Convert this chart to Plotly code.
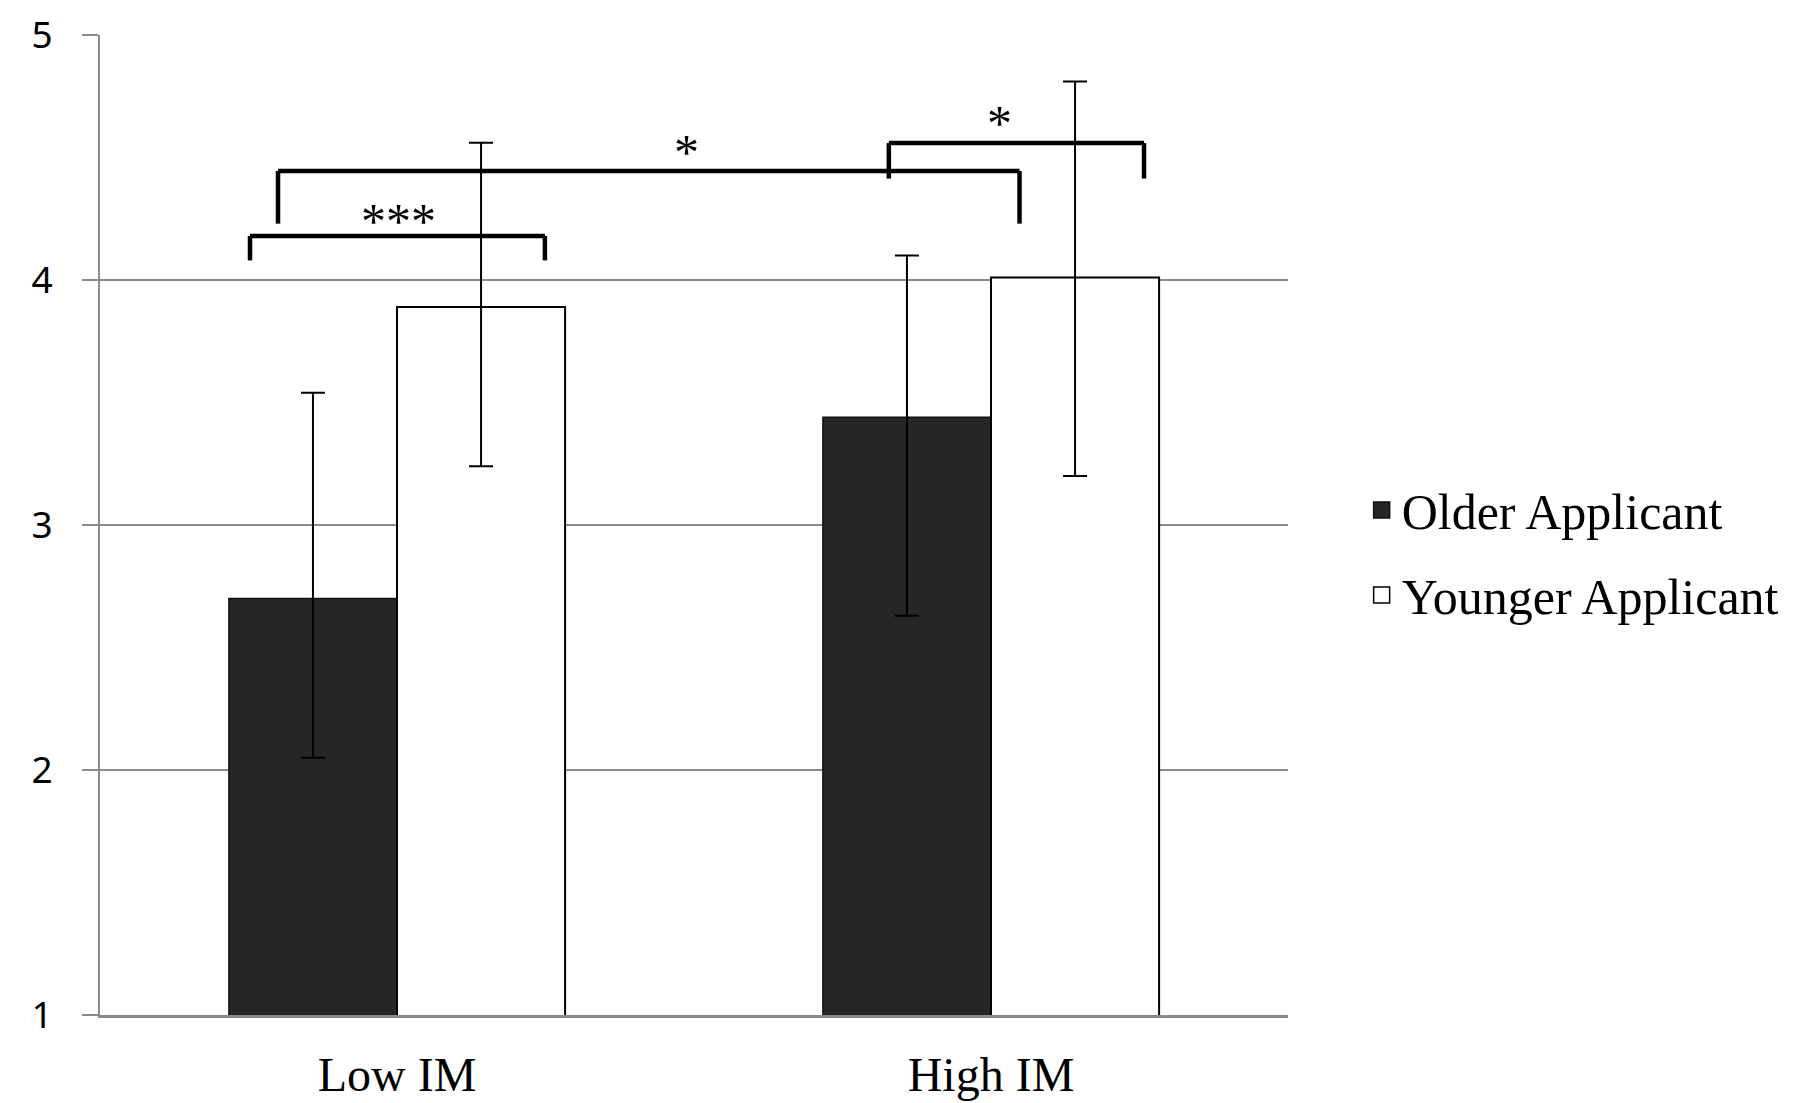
import plotly.graph_objects as go

categories = ["Low IM", "High IM"]
series_names = ["Older Applicant", "Younger Applicant"]
older = [2.70, 3.44]
younger = [3.89, 4.01]
older_err_plus = [0.84, 0.66]
older_err_minus = [0.65, 0.81]
younger_err_plus = [0.67, 0.80]
younger_err_minus = [0.65, 0.81]
y_ticks = [1, 2, 3, 4, 5]

# significance brackets: (x_left, x_right, y_bar, y_leg_left, y_leg_right, label, label_x, label_y)
brackets = [
    (-0.2475, 0.249, 4.18, 4.08, 4.08, "***", 0.003, 4.24),
    (-0.2003, 1.048, 4.445, 4.23, 4.23, "*", 0.487, 4.522),
    (0.828, 1.2576, 4.559, 4.414, 4.414, "*", 1.015, 4.64),
]

GRID = "#8a8a8a"
OLDER_FILL = "#262626"

fig = go.Figure()
fig.add_trace(go.Bar(
    x=categories, y=older, name=series_names[0], showlegend=False,
    marker=dict(color=OLDER_FILL, line=dict(color="#111111", width=1.5)),
    error_y=dict(type="data", symmetric=False, array=older_err_plus,
                 arrayminus=older_err_minus, color="black", thickness=2, width=12),
))
fig.add_trace(go.Bar(
    x=categories, y=younger, name=series_names[1], showlegend=False,
    marker=dict(color="white", line=dict(color="black", width=2)),
    error_y=dict(type="data", symmetric=False, array=younger_err_plus,
                 arrayminus=younger_err_minus, color="black", thickness=2, width=12),
))
# legend keys (larger square swatches, as in the reference)
fig.add_trace(go.Scatter(
    x=[None], y=[None], mode="markers", name=series_names[0], legendgroup="a",
    marker=dict(symbol="square", size=16, color=OLDER_FILL, line=dict(color="#111111", width=1.5)),
))
fig.add_trace(go.Scatter(
    x=[None], y=[None], mode="markers", name=series_names[1], legendgroup="b",
    marker=dict(symbol="square", size=16, color="white", line=dict(color="black", width=1.5)),
))

for xl, xr, yb, yl, yr, lab, lx, ly in brackets:
    for x0, y0, x1, y1 in [(xl, yb, xr, yb), (xl, yl, xl, yb), (xr, yr, xr, yb)]:
        fig.add_shape(type="line", xref="x", yref="y", x0=x0, y0=y0, x1=x1, y1=y1,
                      line=dict(color="black", width=4.5), layer="above")
    fig.add_annotation(x=lx, y=ly, xref="x", yref="y", text=lab, showarrow=False,
                       font=dict(family="Liberation Serif", size=50, color="black"),
                       yanchor="middle")

fig.update_layout(
    width=1792, height=1095,
    margin=dict(l=92, r=512, t=27, b=88, autoexpand=False),
    paper_bgcolor="white", plot_bgcolor="white",
    barmode="group", bargap=0.434, bargroupgap=0,
    showlegend=True,
    legend=dict(
        x=1.062, y=0.472, xanchor="left", yanchor="middle",
        traceorder="grouped", tracegroupgap=17, itemsizing="trace",
        font=dict(family="Liberation Serif", size=50, color="black"),
        bgcolor="rgba(0,0,0,0)",
    ),
)
fig.update_yaxes(
    range=[1, 5], tickvals=y_ticks, showgrid=True, gridcolor=GRID, gridwidth=2,
    showline=True, linecolor=GRID, linewidth=2,
    ticks="outside", ticklen=16, tickcolor=GRID, tickwidth=2,
    tickfont=dict(family="Noto Sans", size=37, color="black"),
    ticklabelstandoff=22, zeroline=False, automargin=False,
    ticklabeloverflow="allow",
)
fig.update_xaxes(
    showline=True, linecolor=GRID, linewidth=2.5, ticks="",
    tickfont=dict(family="Liberation Serif", size=48, color="black"),
    ticklabelstandoff=16, automargin=False, ticklabeloverflow="allow",
)

fig.write_html("out.html")
